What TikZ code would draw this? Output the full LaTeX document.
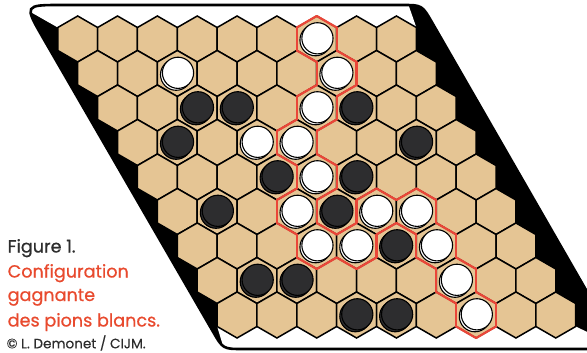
\documentclass[tikz,border=0pt]{standalone}
\usepackage{fontspec}
\setmainfont{Poppins}[FakeBold=0.7]
\newfontfamily\plainfont{Poppins}[FakeBold=0.25]
\definecolor{hextan}{RGB}{229,197,148}
\definecolor{pathred}{RGB}{234,70,56}
\definecolor{textred}{RGB}{232,74,46}
\definecolor{textgray}{RGB}{45,45,45}
\definecolor{stonegray}{RGB}{45,45,47}
\newcommand\hexc[2]{\pgfmathsetmacro\X{77.7+39.84*#2+19.92*#1}\pgfmathsetmacro\Y{39+34.5*#1}}
\begin{document}
\begin{tikzpicture}[x=1pt,y=-1pt,
  hexcell/.style={fill=hextan,draw=black,line width=1.5pt,line join=miter},
  redline/.style={draw=pathred,line width=2.2pt,line cap=round},
  whitestone/.style={fill=white,draw=black,line width=1.1pt},
  blackstone/.style={fill=stonegray,draw=black,line width=1.1pt},
  caption/.style={anchor=base west,inner sep=0pt}]
\useasboundingbox (0,0) rectangle (587,353);
% board frame
\begin{scope}
\clip (62,5) -- (402,5) .. controls (422,5) .. (432,22.3) -- (601,316) .. controls (620,349) .. (582,349) -- (243,349) .. controls (223,349) .. (213,331.7) -- (43,37.9) .. controls (24,5) .. (62,5) -- cycle;
\fill[black] (0,0) rectangle (640,370);
% top white band
\fill[white] (57.78,27.5)
  \foreach \c in {0,...,8}{ -- ({77.7+39.84*\c},16) -- ({97.62+39.84*\c},27.5)}
  -- (405,-5) -- (20,-5) -- (20,6) -- cycle;
% bottom white band
\fill[white] (217.14,326.5)
  \foreach \c in {0,...,8}{ -- ({237.06+39.84*\c},338) -- ({256.98+39.84*\c},326.5)}
  -- (640,357) -- (640,372) -- (231,372) -- cycle;
\end{scope}
% hex cells
\foreach \r in {0,...,8}{
  \foreach \c in {0,...,8}{
    \hexc{\r}{\c}
    \path[hexcell] (\X,\Y-23) -- (\X+19.92,\Y-11.5) -- (\X+19.92,\Y+11.5) -- (\X,\Y+23) -- (\X-19.92,\Y+11.5) -- (\X-19.92,\Y-11.5) -- cycle;
  }
}
% frame outline
\draw[line width=2.6pt] (62,5) -- (402,5) .. controls (422,5) .. (432,22.3) -- (601,316) .. controls (620,349) .. (582,349) -- (243,349) .. controls (223,349) .. (213,331.7) -- (43,37.9) .. controls (24,5) .. (62,5) -- cycle;
% winning chain outline
\foreach \r/\c in {0/6,1/6,2/5,3/4,4/4,5/3,6/3,6/4,5/5,5/6,6/6,7/6,8/6}{
  \expandafter\xdef\csname inp-\r-\c\endcsname{1}}
\foreach \r/\c in {0/6,1/6,2/5,3/4,4/4,5/3,6/3,6/4,5/5,5/6,6/6,7/6,8/6}{
  \hexc{\r}{\c}
  \pgfmathtruncatemacro\rm{\r-1}\pgfmathtruncatemacro\rp{\r+1}
  \pgfmathtruncatemacro\cm{\c-1}\pgfmathtruncatemacro\cp{\c+1}
  \ifcsname inp-\r-\cp\endcsname\else\path[redline] (\X+19.92,\Y-11.5) -- (\X+19.92,\Y+11.5);\fi
  \ifcsname inp-\r-\cm\endcsname\else\path[redline] (\X-19.92,\Y-11.5) -- (\X-19.92,\Y+11.5);\fi
  \ifcsname inp-\rm-\c\endcsname\else\path[redline] (\X,\Y-23) -- (\X-19.92,\Y-11.5);\fi
  \ifcsname inp-\rm-\cp\endcsname\else\path[redline] (\X,\Y-23) -- (\X+19.92,\Y-11.5);\fi
  \ifcsname inp-\rp-\c\endcsname\else\path[redline] (\X,\Y+23) -- (\X+19.92,\Y+11.5);\fi
  \ifcsname inp-\rp-\cm\endcsname\else\path[redline] (\X,\Y+23) -- (\X-19.92,\Y+11.5);\fi
}
% white stones
\foreach \r/\c in {0/6,1/6,2/5,3/4,4/4,5/3,5/5,5/6,6/3,6/4,6/6,7/6,8/6,1/2,3/3}{
  \hexc{\r}{\c}
  \path[whitestone] (\X-1.2,\Y+1.2) circle (15.6);
  \path[whitestone] (\X+0.7,\Y-0.7) circle (15.6);
}
% black stones
\foreach \r/\c in {2/2,2/3,2/6,3/1,3/7,4/3,4/5,5/1,5/4,6/5,7/1,7/2,8/3,8/4}{
  \hexc{\r}{\c}
  \path[blackstone] (\X-1.2,\Y+1.2) circle (15.6);
  \path[blackstone] (\X+0.7,\Y-0.7) circle (15.6);
}
% caption
\node[caption,text=textgray,font=\fontsize{17.6}{18}\selectfont] (fig) at (7.5,252.5) {Figure 1.};
\node[caption,text=textred,font=\fontsize{17.6}{18}\selectfont] (l1) at (7.5,277.5) {Configuration};
\node[caption,text=textred,font=\fontsize{17.6}{18}\selectfont] (l2) at (7.5,301) {gagnante};
\node[caption,text=textred,font=\fontsize{17.6}{18}\selectfont] (l3) at (7.5,326.5) {des pions blancs.};
\node[caption,text=textgray,font=\plainfont\fontsize{13.6}{14}\selectfont] (cr) at (6.5,348.3) {© L. Demonet / CIJM.};
\end{tikzpicture}
\end{document}
